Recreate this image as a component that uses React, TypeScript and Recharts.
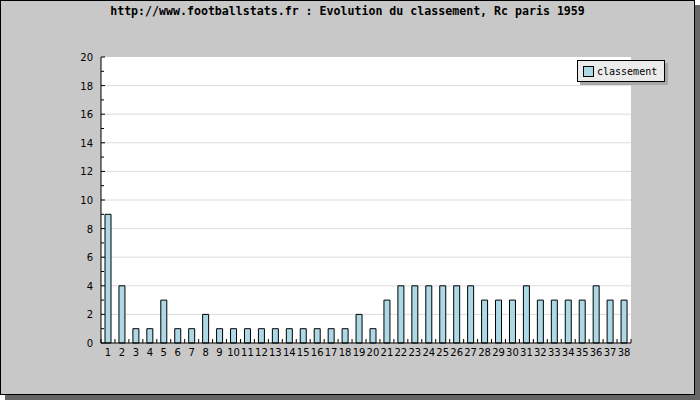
import React from 'react';
import { BarChart, Bar, XAxis, YAxis, CartesianGrid } from 'recharts';

const title = 'http://www.footballstats.fr : Evolution du classement, Rc paris 1959';
const seriesName = 'classement';
const categories = ['1','2','3','4','5','6','7','8','9','10','11','12','13','14','15','16','17','18','19','20','21','22','23','24','25','26','27','28','29','30','31','32','33','34','35','36','37','38'];
const classement = [9,4,1,1,3,1,1,2,1,1,1,1,1,1,1,1,1,1,2,1,3,4,4,4,4,4,4,3,3,3,4,3,3,3,3,4,3,3];
const yTicks = [0,1,2,3,4,5,6,7,8,9,10,11,12,13,14,15,16,17,18,19,20];
const gridValues = [2,4,6,8,10,12,14,16,18];

const data = categories.map((c, i) => ({ name: c, classement: classement[i] }));

const W = 700;
const H = 400;
const margin = { top: 57, right: 69, bottom: 37, left: 61 };
const yAxisWidth = 40;
const plotWidth = W - margin.left - yAxisWidth - margin.right;
const step = plotWidth / categories.length;

const tickFont = { fontFamily: 'DejaVu Sans', fontSize: 10, fill: '#000' };

const YTick = (props: any) => {
  const { x, y, payload } = props;
  const ax = x + 4;
  const major = payload.value % 2 === 0;
  return (
    <g>
      <line x1={ax} x2={ax + (major ? 4 : 3)} y1={y} y2={y} stroke="#000" strokeWidth={1} />
      {major && (
        <text x={ax - 8} y={y + 4} textAnchor="end" style={tickFont as any}>
          {payload.value}
        </text>
      )}
    </g>
  );
};

const XTick = (props: any) => {
  const { x, y, payload, index } = props;
  const axisY = y - 2;
  const left = x - step / 2;
  const last = index === categories.length - 1;
  return (
    <g>
      <line x1={left} x2={left} y1={axisY} y2={axisY - 4} stroke="#000" strokeWidth={1} />
      {last && <line x1={x + step / 2} x2={x + step / 2} y1={axisY} y2={axisY - 4} stroke="#000" strokeWidth={1} />}
      <text x={x} y={axisY + 13} textAnchor="middle" style={tickFont as any}>
        {payload.value}
      </text>
    </g>
  );
};

export default function App() {
  return (
    <div style={{ position: 'absolute', left: 0, top: 0, width: W, height: H, background: '#fff', overflow: 'hidden' }}>
      <div
        style={{
          position: 'absolute',
          left: 0,
          top: 0,
          width: 695,
          height: 395,
          boxSizing: 'border-box',
          border: '1px solid #000',
          background: '#c8c8c8',
          boxShadow: '5px 5px 0 #666',
        }}
      />
      <div
        style={{
          position: 'absolute',
          left: 0,
          top: 4,
          width: 695,
          textAlign: 'center',
          fontFamily: 'DejaVu Sans Mono',
          fontWeight: 'bold',
          fontSize: 11.6,
          color: '#000',
        }}
      >
        {title}
      </div>
      <div style={{ position: 'absolute', left: 0, top: 0 }}>
        <BarChart width={W} height={H} data={data} margin={margin} barSize={6}>
          <CartesianGrid
            fill="#fff"
            vertical={false}
            stroke="#dcdcdc"
            horizontalValues={gridValues}
          />
          <XAxis
            dataKey="name"
            interval={0}
            tickSize={0}
            tickMargin={2}
            tick={<XTick />}
            axisLine={{ stroke: '#000' }}
            tickLine={false}
            height={20}
          />
          <YAxis
            domain={[0, 20]}
            ticks={yTicks}
            interval={0}
            width={yAxisWidth}
            tickSize={0}
            tickMargin={4}
            tick={<YTick />}
            axisLine={{ stroke: '#000' }}
            tickLine={false}
          />
          <Bar dataKey="classement" fill="#add8e6" stroke="#000" strokeWidth={1} isAnimationActive={false} />
        </BarChart>
      </div>
      <div
        style={{
          position: 'absolute',
          left: 577,
          top: 60,
          width: 88,
          height: 22,
          boxSizing: 'border-box',
          border: '1px solid #000',
          background: '#ebebeb',
          boxShadow: '3px 3px 0 #a8a8a8',
          display: 'flex',
          alignItems: 'center',
          fontFamily: 'DejaVu Sans Mono',
          fontSize: 10,
          color: '#000',
        }}
      >
        <span
          style={{
            display: 'inline-block',
            width: 11,
            height: 11,
            boxSizing: 'border-box',
            border: '1px solid #000',
            background: '#add8e6',
            marginLeft: 5,
            marginRight: 3,
          }}
        />
        <span>{seriesName}</span>
      </div>
    </div>
  );
}
